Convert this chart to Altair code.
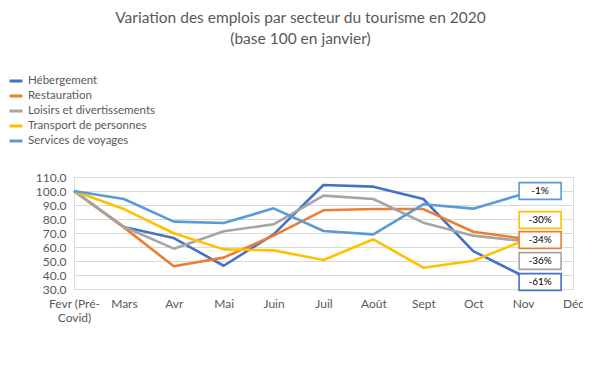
import altair as alt
import pandas as pd

months = ["Fevr (Pré-Covid)", "Mars", "Avr", "Mai", "Juin", "Juil", "Août", "Sept", "Oct", "Nov", "Déc"]
series = ["Hébergement", "Restauration", "Loisirs et divertissements",
          "Transport de personnes", "Services de voyages"]
colors = ["#4472C4", "#ED7D31", "#A5A5A5", "#FFC000", "#5B9BD5"]

hebergement = [100, 74.3, 66.4, 46.6, 69.0, 104.3, 103.1, 94.3, 57.1, 39.3]
restauration = [100, 74.0, 46.2, 52.4, 68.1, 86.2, 87.1, 87.1, 70.9, 66.0]
loisirs = [100, 74.5, 58.8, 71.2, 76.2, 96.7, 94.3, 77.4, 68.1, 64.3]
transport = [100, 87.1, 69.8, 58.3, 57.6, 50.7, 65.5, 45.2, 50.2, 64.3]
services = [100, 94.3, 78.1, 77.1, 87.6, 71.4, 69.0, 90.5, 87.4, 97.9]

y_ticks = [30, 40, 50, 60, 70, 80, 90, 100, 110]

# Annotation boxes at Nov (label text, series, vertical placement of the box)
ann_labels = ["-1%", "-30%", "-34%", "-36%", "-61%"]
ann_series = ["Services de voyages", "Transport de personnes", "Restauration",
              "Loisirs et divertissements", "Hébergement"]
ann_y = [100, 79.3, 65, 50, 35]

rows = []
for name, vals in zip(series, [hebergement, restauration, loisirs, transport, services]):
    for i, v in enumerate(vals):
        rows.append({"mois": months[i], "serie": name, "valeur": v, "ordre": series.index(name)})
df = pd.DataFrame(rows)
ann = pd.DataFrame({"mois": ["Nov"] * 5, "label": ann_labels, "serie": ann_series, "y": ann_y})

FONT = "Lato"
GREY = "#595959"

xscale = alt.Scale(domain=months, padding=0)
yscale = alt.Scale(domain=[30, 110], nice=False)
cscale = alt.Scale(domain=series, range=colors)

x_axis = alt.Axis(labelAngle=0, ticks=False, domain=False, grid=False,
                  labelColor=GREY, labelFontSize=12, labelFont=FONT, labelPadding=9,
                  labelOverlap=False,
                  labelExpr="datum.label == 'Fevr (Pré-Covid)' ? ['Fevr (Pré-', 'Covid)'] : datum.label")
y_axis = alt.Axis(values=y_ticks, format=".1f", labelOverlap=False,
                  ticks=False, domain=False, gridColor="#D9D9D9", gridWidth=1,
                  labelColor=GREY, labelFontSize=12, labelFont=FONT, labelPadding=8)

lines = alt.Chart(df).mark_line(strokeWidth=2.6, strokeJoin="round").encode(
    x=alt.X("mois:N", scale=xscale, sort=months, title=None, axis=x_axis),
    y=alt.Y("valeur:Q", scale=yscale, title=None, axis=y_axis),
    color=alt.Color("serie:N", scale=cscale, sort=series, title=None,
                    legend=alt.Legend(orient="none", legendX=-66, legendY=-104,
                                      symbolType="stroke", symbolStrokeWidth=3, symbolSize=169,
                                      labelFont=FONT, labelFontSize=11.5, labelColor=GREY,
                                      rowPadding=1, labelOffset=4, padding=0)),
    order="ordre:Q",
)

boxes = alt.Chart(ann).mark_point(
    shape="M-1,-0.4H1V0.4H-1Z", size=1764, filled=False, fill="white", fillOpacity=1,
    strokeWidth=1.6, opacity=1, xOffset=17
).encode(
    x=alt.X("mois:N", scale=xscale, sort=months, title=None, axis=x_axis),
    y=alt.Y("y:Q", scale=yscale, title=None, axis=y_axis),
    stroke=alt.Stroke("serie:N", scale=cscale, legend=None),
)

texts = alt.Chart(ann).mark_text(fontSize=10, font=FONT, color="#000000", dx=17).encode(
    x=alt.X("mois:N", scale=xscale, sort=months, title=None, axis=x_axis),
    y=alt.Y("y:Q", scale=yscale, title=None, axis=y_axis),
    text="label:N",
)

chart = alt.layer(lines, boxes, texts).properties(
    width=499, height=112,
    title=alt.Title(["Variation des emplois par secteur du tourisme en 2020", "(base 100 en janvier)"],
                    font=FONT, fontSize=15.5, fontWeight="normal", color=GREY, anchor="middle",
                    lineHeight=21, dx=-23, dy=-22),
    padding={"left": 66, "top": 169, "right": 10, "bottom": 80},
    autosize=alt.AutoSizeParams(type="none"),
).configure_view(stroke=None).configure(background="white")

chart.save("out.html", embed_options={"renderer": "svg", "actions": False})
